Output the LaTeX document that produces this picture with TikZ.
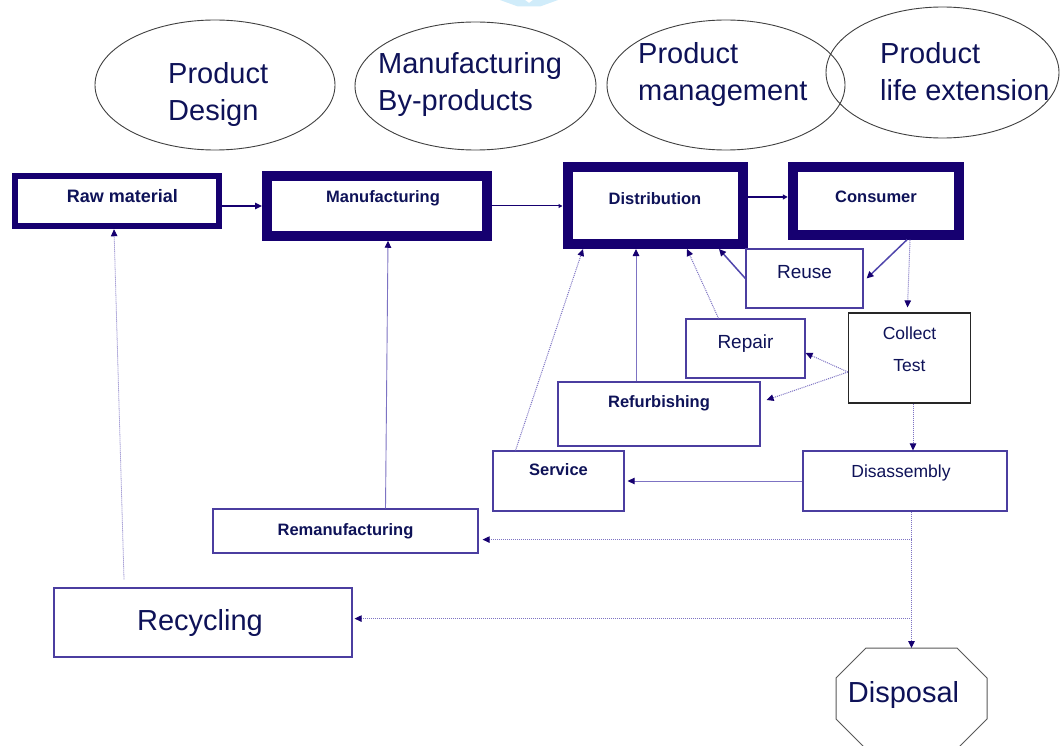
\documentclass[tikz,border=0pt]{standalone}
\usepackage{fontspec}
\setmainfont{Liberation Sans}
\usetikzlibrary{arrows.meta,
	calc,
	shapes.geometric}

\definecolor{navy}{RGB}{22,0,112}
\definecolor{boxline}{RGB}{75,62,160}
\definecolor{link}{RGB}{125,115,195}
\definecolor{reuseline}{RGB}{80,70,172}
\definecolor{ink}{RGB}{14,18,88}
\definecolor{wmark}{RGB}{208,236,250}

\newcommand{\ovaltxt}{\fontsize{29}{37}\selectfont}
\newcommand{\keytxt}{\fontsize{16.5}{20}\selectfont\bfseries}
\newcommand{\subtxt}{\fontsize{19}{23}\selectfont}
\newcommand{\smalltxt}{\fontsize{17.5}{32}\selectfont}

\tikzset{
	oval/.style={ellipse, draw=black!75, line width=0.9pt},
	ovaltext/.style={anchor=north west, inner sep=0pt, align=left, font=\ovaltxt, text=ink},
	keybox/.style={rectangle, draw=navy, fill=white, line width=10pt, font=\keytxt, text=ink, text height=12pt},
	subbox/.style={rectangle, draw=boxline, fill=white, line width=1.2pt, text=ink},
	octline/.style={draw=black!65, line width=1pt},
	mainlink/.style={draw=navy, line width=1.4pt, ->},
	reuselink/.style={draw=reuseline, line width=1.5pt, ->},
	lightlink/.style={draw=link, line width=0.9pt, ->},
	dotlink/.style={draw=link, line width=1pt, densely dotted, ->}
}

\begin{document}
\begin{tikzpicture}[x=1pt, y=-1pt, >={Triangle[length=7pt,width=6.5pt,color=navy]}]
	\path[fill=white, use as bounding box] (0,0) rectangle (1060,746);
	\fill[wmark] (500,0) -- (525,0) -- (529,3) -- (533,0) -- (558,0) -- (540,6.5) -- (518,6.5) -- cycle;

	% strategies
	\node[oval, minimum width=240pt, minimum height=130pt] (design) at (215,85) {};
	\node[oval, minimum width=241pt, minimum height=128pt] (byprod) at (475.5,86) {};
	\node[oval, minimum width=238pt, minimum height=130pt] (mgmt) at (726,85) {};
	\node[oval, minimum width=233pt, minimum height=131pt] (lifeext) at (942.5,72.5) {};
	\node[ovaltext] (designtxt) at (168,62) {Product\\Design};
	\node[ovaltext] (byprodtxt) at (378,52.5) {Manufacturing\\By-products};
	\node[ovaltext] (mgmttxt) at (638,42.5) {Product\\management};
	\node[ovaltext] (lifeexttxt) at (880,42.5) {Product\\life extension};

	% main chain
	\node[keybox, line width=6.5pt, font=\fontsize{18}{20}\selectfont\bfseries, minimum width=204pt, minimum height=50pt, text depth=9.2pt] (raw) at (117,201) {\hspace*{11pt}Raw material};
	\node[keybox, minimum width=220pt, minimum height=59.5pt, text depth=18.2pt] (manuf) at (377,206) {\hspace*{12pt}Manufacturing};
	\node[keybox, minimum width=175pt, minimum height=77pt, text depth=14.2pt] (dist) at (655,205.5) {Distribution};
	\node[keybox, minimum width=166.5pt, minimum height=67.5pt, text depth=9.2pt] (cons) at (876,201) {Consumer};

	% loops
	\node[subbox, font=\subtxt, minimum width=117pt, minimum height=59pt, text height=13.6pt, text depth=13pt] (reuse) at (804.5,278.5) {Reuse};
	\node[subbox, font=\subtxt, minimum width=119pt, minimum height=59pt, text height=13.6pt, text depth=13pt] (repair) at (745.5,348.5) {Repair};
	\node[subbox, draw=black!85, font=\smalltxt, minimum width=122pt, minimum height=90pt, text height=0pt, text depth=9.2pt] (collect) at (909.5,358) {\begin{tabular}{@{}c@{}}Collect\\Test\end{tabular}};
	\node[subbox, font=\keytxt, minimum width=202pt, minimum height=64pt, text height=12pt, text depth=24.2pt] (refurb) at (659,414) {Refurbishing};
	\node[subbox, font=\keytxt, minimum width=131pt, minimum height=60pt, text height=12pt, text depth=22.2pt] (service) at (558.5,481) {Service};
	\node[subbox, font=\smalltxt, minimum width=204pt, minimum height=60pt, text height=12.5pt, text depth=19pt] (disasm) at (905,481) {\hspace*{-8pt}Disassembly};
	\node[subbox, font=\keytxt, minimum width=265pt, minimum height=44pt, text height=12pt, text depth=2.2pt] (remanuf) at (345.5,531) {Remanufacturing};
	\node[subbox, font=\ovaltxt, minimum width=298pt, minimum height=69pt, text height=20.8pt, text depth=5pt] (recyc) at (203,622.5) {\hspace*{-6pt}Recycling};

	% disposal octagon
	\node[font=\ovaltxt, text=ink, inner sep=0pt] (disposal) at (903.5,695) {Disposal};
	\coordinate (disptop) at ($(disposal)+(8,-47)$);
	\draw[octline] ($(disptop)+(-45.5,0)$) -- ++(91,0) -- ++(30,30) -- ++(0,41) -- ++(-30,30)
		-- ++(-91,0) -- ++(-30,-30) -- ++(0,-41) -- cycle;

	% forward flow
	\draw[mainlink] (raw.east |- manuf.west) -- (manuf.west);
	\draw[mainlink, line width=1pt, -{Triangle[length=4pt,width=4pt,color=navy]}] (manuf.east) -- (manuf.east -| dist.west);
	\draw[mainlink, -{Triangle[length=5pt,width=5pt,color=navy]}] ([yshift=8.5pt]dist.east) -- ([yshift=8.5pt]dist.east -| cons.west);
	\draw[reuselink] ([xshift=31pt]cons.south) -- ([xshift=3pt]reuse.east);
	\draw[dotlink] ([xshift=34pt]cons.south) -- ([xshift=-2pt,yshift=5pt]collect.north);

	% back to distribution
	\draw[reuselink] (reuse.west) -- ([xshift=64pt]dist.south);
	\draw[dotlink] ([xshift=-27pt]repair.north) -- ([xshift=32pt]dist.south);
	\draw[lightlink] ([xshift=-23pt]refurb.north) -- ([xshift=-23pt]refurb.north |- dist.south);
	\draw[dotlink] ([xshift=-43pt]service.north) -- ([xshift=-72pt]dist.south);

	% collect and test
	\draw[dotlink] ([yshift=-14pt]collect.west) -- ([yshift=-4.5pt]repair.east);
	\draw[dotlink] ([yshift=-14pt]collect.west) -- ([xshift=6pt,yshift=14pt]refurb.east);
	\draw[dotlink] ([xshift=3.5pt]collect.south) -- ([xshift=3.5pt]collect.south |- disasm.north);
	\draw[lightlink] (disasm.west) -- ([xshift=3pt]service.east);

	% end of life
	\coordinate (remsplit) at ($([xshift=6.5pt]disasm.south)+(0,28)$);
	\coordinate (recsplit) at ($([xshift=6.5pt]disasm.south)+(0,107)$);
	\draw[dotlink] ([xshift=6.5pt]disasm.south) -- (disptop);
	\draw[dotlink, shorten >=4pt] (remsplit) -- (remanuf.east |- remsplit);
	\draw[dotlink, shorten >=2pt] (recsplit) -- (recyc.east |- recsplit);
	\draw[lightlink] ([xshift=40pt]remanuf.north) -- ([xshift=11pt]manuf.south);
	\draw[dotlink, line width=0.8pt] ([xshift=-79pt,yshift=8pt]recyc.north) -- ([xshift=-3pt]raw.south);
\end{tikzpicture}
\end{document}
